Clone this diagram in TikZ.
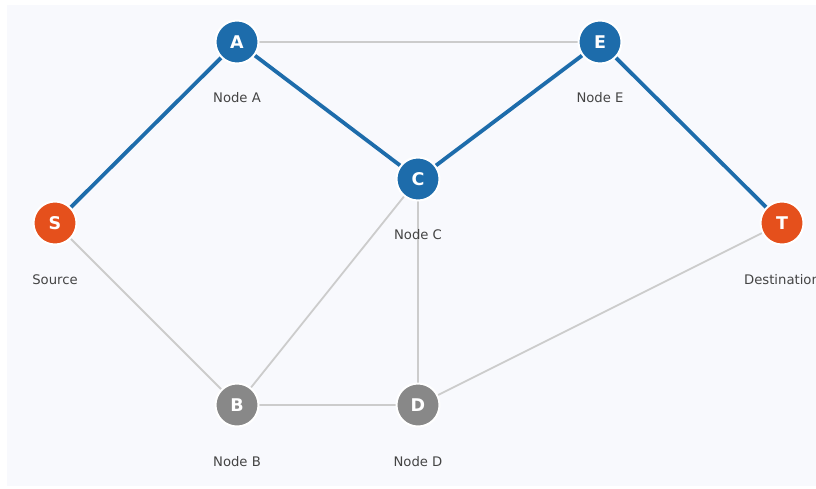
\documentclass[tikz,border=0pt]{standalone}
\usepackage{fontspec}
\setmainfont{DejaVu Sans}
\definecolor{bgc}{HTML}{F8F9FD}
\definecolor{pathblue}{HTML}{1D6CAB}
\definecolor{srcorange}{HTML}{E5501C}
\definecolor{nodegray}{HTML}{888888}
\definecolor{edgegray}{HTML}{CCCCCC}
\definecolor{labelgray}{HTML}{444444}
\pgfdeclarelayer{edgelayer}
\pgfdeclarelayer{bglayer}
\pgfsetlayers{bglayer,edgelayer,main}
\tikzset{
  vert/.style={circle, draw=white, line width=2pt, minimum size=43pt, inner sep=0pt,
    text=white, font=\fontsize{17.5}{17.5}\selectfont\bfseries},
  bluevert/.style={vert, fill=pathblue},
  orangevert/.style={vert, fill=srcorange},
  grayvert/.style={vert, fill=nodegray},
  vlabel/.style={text=labelgray, font=\fontsize{13.2}{13.2}\selectfont, inner sep=0pt},
  plainedge/.style={draw=edgegray, line width=1.8pt},
  pathedge/.style={draw=pathblue, line width=3.8pt},
}
\begin{document}
\begin{tikzpicture}[x=1pt,y=-1pt]
\useasboundingbox (0,0) rectangle (816,488);
\begin{pgfonlayer}{bglayer}
\fill[bgc] (7,5) rectangle (830,486);
\end{pgfonlayer}
% nodes
\node[bluevert] (A) at (237,42) {A};
\node[bluevert] (E) at (600,42) {E};
\node[bluevert] (C) at (418,179) {C};
\node[orangevert] (S) at (55,223) {S};
\node[orangevert] (T) at (782,223) {T};
\node[grayvert] (B) at (237,405) {B};
\node[grayvert] (D) at (418,405) {D};
% edges
\begin{pgfonlayer}{edgelayer}
\path[plainedge] (A.center) -- (E.center);
\path[plainedge] (S.center) -- (B.center);
\path[plainedge] (C.center) -- (B.center);
\path[plainedge] (C.center) -- (D.center);
\path[plainedge] (B.center) -- (D.center);
\path[plainedge] (D.center) -- (T.center);
\path[pathedge] (S.center) -- (A.center);
\path[pathedge] (A.center) -- (C.center);
\path[pathedge] (C.center) -- (E.center);
\path[pathedge] (E.center) -- (T.center);
\end{pgfonlayer}
% labels
\node[vlabel] (lA) at (237,98) {Node A};
\node[vlabel] (lE) at (600,98) {Node E};
\node[vlabel] (lC) at (418,235) {Node C};
\node[vlabel] (lS) at (55,280) {Source};
\node[vlabel] (lT) at (782,280) {Destination};
\node[vlabel] (lB) at (237,462) {Node B};
\node[vlabel] (lD) at (418,462) {Node D};
\end{tikzpicture}
\end{document}
